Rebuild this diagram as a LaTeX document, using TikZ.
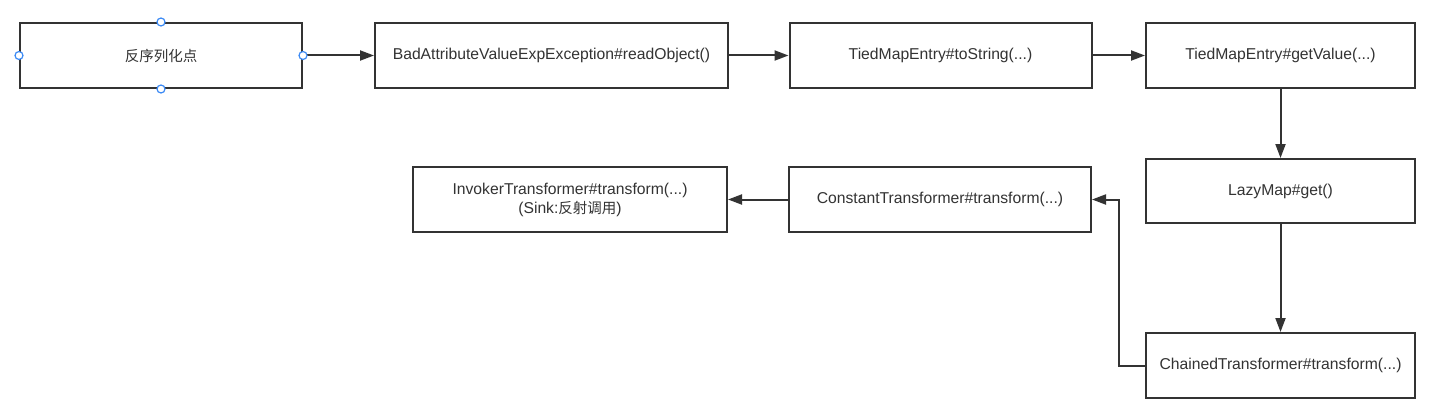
\documentclass[tikz,border=0pt]{standalone}
\usepackage{fontspec}
\setmainfont{Liberation Sans}
\newfontfamily\cjk{Noto Sans CJK SC}
\usetikzlibrary{arrows.meta}
\definecolor{ink}{HTML}{333333}
\definecolor{handle}{HTML}{3D8BF5}
\begin{document}
\begin{tikzpicture}[x=1pt,y=-1pt,
  box/.style={draw=ink,line width=2pt,fill=white,inner sep=0pt,font=\fontsize{15.7}{19}\selectfont,text=ink,align=center},
  cn/.style={font=\fontsize{14.5}{19}\selectfont\cjk},
  conn/.style={draw=ink,line width=2pt,-{Triangle[length=14pt,width=10pt]}},
  hdl/.style={circle,draw=handle,fill=white,line width=1.2pt,minimum size=8pt,inner sep=0pt}]
\useasboundingbox (0,0) rectangle (1445,420);
\fill[white] (0,0) rectangle (1445,420);
\node[box,cn,minimum width=282pt,minimum height=65pt] (src) at (161,55.5) {反序列化点};
\node[box,minimum width=353pt,minimum height=65pt] (bad) at (551.5,55.5) {BadAttributeValueExpException\#readObject()};
\node[box,minimum width=302pt,minimum height=65pt] (tos) at (940.5,55.5) {TiedMapEntry\#toString(...)};
\node[box,minimum width=269pt,minimum height=65pt] (gv) at (1280.5,55.5) {TiedMapEntry\#getValue(...)};
\node[box,minimum width=269pt,minimum height=64pt] (lm) at (1280.5,191) {LazyMap\#get()};
\node[box,minimum width=269pt,minimum height=65pt] (ct) at (1280.5,365.5) {ChainedTransformer\#transform(...)};
\node[box,minimum width=302pt,minimum height=65pt] (cst) at (940,199.5) {ConstantTransformer\#transform(...)};
\node[box,minimum width=314pt,minimum height=65pt] (inv) at (570,199.5) {InvokerTransformer\#transform(...)\\(Sink:{\fontsize{14.5}{19}\selectfont\cjk 反射调用})};
\coordinate (bend1) at (1119,365.5);
\coordinate (bend2) at (1119,199.5);
\draw[conn] (src.east) -- (bad.west);
\draw[conn] (bad.east) -- (tos.west);
\draw[conn] (tos.east) -- (gv.west);
\draw[conn] (gv.south) -- (lm.north);
\draw[conn] (lm.south) -- (ct.north);
\draw[conn] (ct.west) -- (bend1) -- (bend2) -- (cst.east);
\draw[conn] (cst.west) -- (inv.east);
\node[hdl] (h1) at (src.north) {};
\node[hdl] (h2) at (src.south) {};
\node[hdl] (h3) at (src.west) {};
\node[hdl] (h4) at (src.east) {};
\end{tikzpicture}
\end{document}
